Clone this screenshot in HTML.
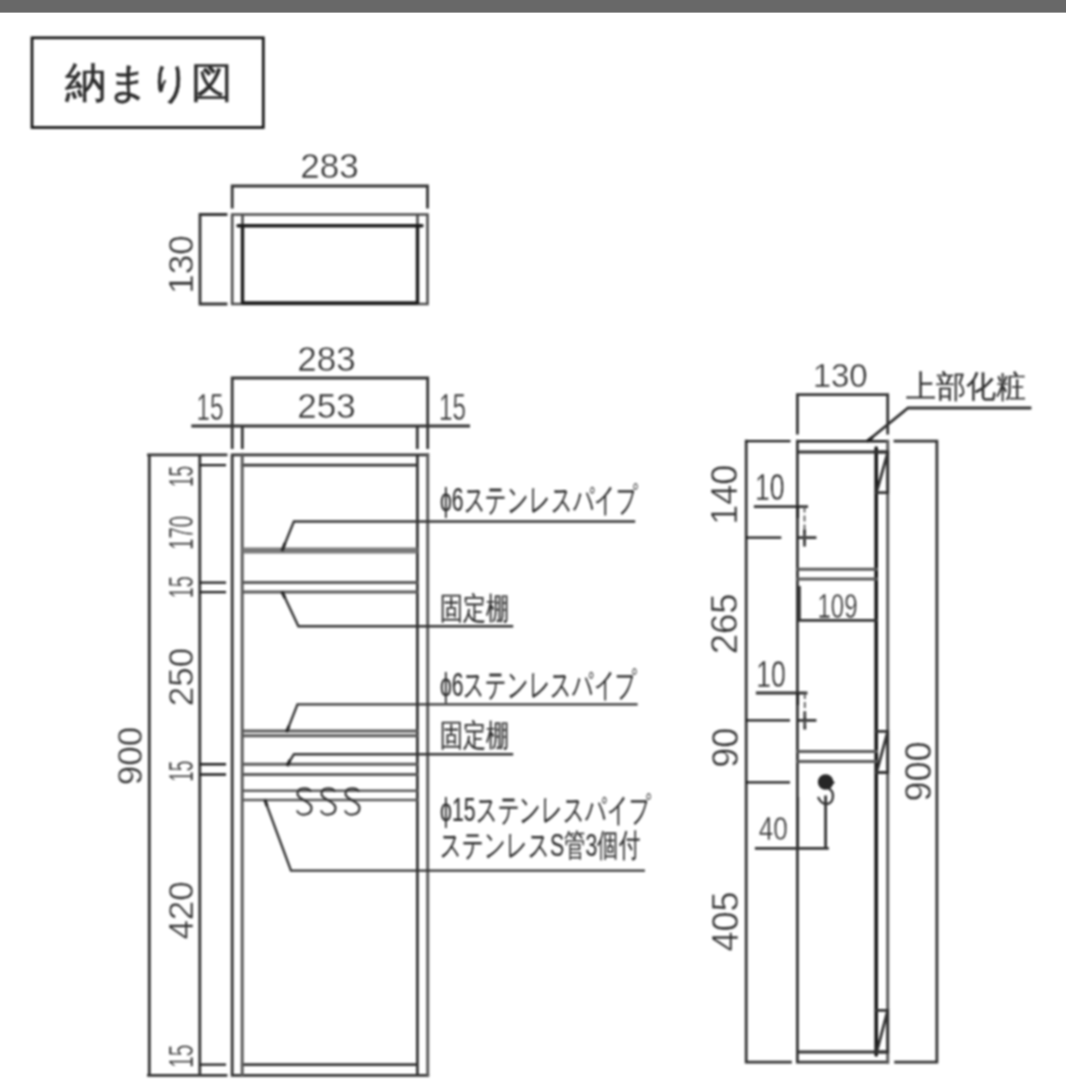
<!DOCTYPE html>
<html><head><meta charset="utf-8">
<style>
html,body{margin:0;padding:0;background:#fff;}
body{width:1067px;height:1080px;overflow:hidden;position:relative;font-family:"Liberation Sans",sans-serif;}
svg{position:absolute;left:0;top:0;}
.l{stroke:#333;stroke-width:2.8;fill:none;stroke-linecap:square;}
.m{stroke:#4a4a4a;stroke-width:2.6;fill:none;}
.g{stroke:#5a5a5a;stroke-width:3;fill:none;stroke-linecap:square;}
.k{stroke:#1a1a1a;stroke-width:3.4;fill:none;}
text{font-family:"Liberation Sans",sans-serif;fill:#2e2e2e;stroke:#fff;stroke-width:0.45;}
text.j{stroke:#333;stroke-width:0.2;}
</style></head><body>
<svg width="1067" height="1080" viewBox="0 0 1067 1080">
<defs><filter id="b" x="-5%" y="-5%" width="110%" height="110%"><feGaussianBlur stdDeviation="0.6"/></filter></defs>
<rect x="0" y="0" width="1066" height="12.6" fill="#686868"/>
<g style="filter:blur(0.8px)">
<!-- title -->
<rect x="32" y="37.8" width="231.3" height="89.7" fill="none" stroke="#111" stroke-width="2.7"/>
<text x="65" y="97" font-size="42" textLength="168" lengthAdjust="spacingAndGlyphs" style="stroke:#2a2a2a;stroke-width:0.5;fill:#2a2a2a">納まり図</text>

<!-- TOP VIEW -->
<text x="329.5" y="178.4" font-size="35" text-anchor="middle">283</text>
<path class="l" d="M232.2 186H427.5M232.2 186V207M427.5 186V207"/>
<path class="m" d="M232.2 214.5H427.5V304H232.2Z M242.5 214.5V226 M417.5 214.5V226"/>
<path class="k" d="M242.5 225V304 M417.5 225V304"/>
<path class="k" d="M238 225.8H422" style="stroke-width:3.4;stroke-linecap:round"/>
<path class="k" d="M242.5 303H417.5"/>
<path class="l" d="M200 214.5V304 M200 214.5H226 M200 304H226"/>
<text transform="translate(193.2,264.5) rotate(-90)" font-size="35" text-anchor="middle">130</text>

<!-- FRONT VIEW -->
<text x="326.5" y="370.5" font-size="35" text-anchor="middle">283</text>
<text x="326.5" y="418" font-size="35" text-anchor="middle">253</text>
<text x="210" y="419.5" font-size="36" text-anchor="middle" textLength="27" lengthAdjust="spacingAndGlyphs">15</text>
<text x="452.5" y="419.5" font-size="36" text-anchor="middle" textLength="27" lengthAdjust="spacingAndGlyphs">15</text>
<path class="l" d="M232.2 378H427.7 M232.2 378V447.5 M427.7 378V447.5 M192.7 426H468.6 M242.3 426V447.5 M417.3 426V447.5"/>
<path class="l" d="M232.2 454.8H427.7 M232.2 1075.3H427.7 M232.2 454.8V1075.3 M417.4 454.8V1075.3 M242.3 465.1H417.4 M242.3 1064.6H417.4"/>
<path class="g" d="M427.7 454.8V1075.3 M242.2 454.8V1075.3"/>
<!-- pipes & shelves -->
<path d="M242.5 550.5H417.3" stroke="#7a7a7a" stroke-width="6" fill="none"/>
<path class="g" d="M242.5 582.6H417.3 M242.5 592.1H417.3"/>
<path class="g" d="M242.5 731.1H417.3 M242.5 735.8H417.3"/>
<path class="g" d="M242.5 764.2H417.3 M242.5 774.5H417.3"/>
<path class="g" d="M242.5 790.8H417.3 M242.5 800H417.3" style="stroke-width:2.6"/>
<!-- leaders -->
<path class="l" style="stroke-width:2.4" d="M282.6 549.4L293.9 521.5H634 M282.5 592.5L298.4 626.2H512 M287 731L297.5 704.4H636.4 M287.5 764.5L294 754.2H512 M265 800.3L291 870.6H643.7"/>
<path d="M282 551L285 543 M282 592L285 598 M286.5 732L289 726 M287.2 766L290 760 M265 800L267 806" stroke="#222" stroke-width="3" fill="none"/>
<!-- dims left -->
<path class="l" d="M149.3 454.8V1075.3 M199.8 454.8V1075.3 M148.5 454.8H226 M148.5 1075.3H226"/>
<path class="k" d="M199.8 465.1H226 M199.8 582.6H226 M199.8 592.1H226 M199.8 764.2H226 M199.8 774.5H226 M199.8 1064.6H226" style="stroke-width:2.4"/>
<text transform="translate(192.5,476.5) rotate(-90)" font-size="35" text-anchor="middle" textLength="21" lengthAdjust="spacingAndGlyphs">15</text>
<text transform="translate(192.5,532.8) rotate(-90)" font-size="35" text-anchor="middle" textLength="34" lengthAdjust="spacingAndGlyphs">170</text>
<text transform="translate(192.5,587.2) rotate(-90)" font-size="35" text-anchor="middle" textLength="22" lengthAdjust="spacingAndGlyphs">15</text>
<text transform="translate(192.7,677) rotate(-90)" font-size="35" text-anchor="middle">250</text>
<text transform="translate(192.5,771.2) rotate(-90)" font-size="35" text-anchor="middle" textLength="21" lengthAdjust="spacingAndGlyphs">15</text>
<text transform="translate(192.7,910.4) rotate(-90)" font-size="35" text-anchor="middle">420</text>
<text transform="translate(192.5,1056.2) rotate(-90)" font-size="35" text-anchor="middle" textLength="23" lengthAdjust="spacingAndGlyphs">15</text>
<text transform="translate(141.9,756) rotate(-90)" font-size="35" text-anchor="middle">900</text>
<!-- S hooks -->
<path d="M311 792C309.5 787.5 298 786.5 297.5 793.5C297 800 311.5 800.5 311.5 808C311.5 816 299 816.5 297 810.5 M335 792C333.5 787.5 322 786.5 321.5 793.5C321 800 335.5 800.5 335.5 808C335.5 816 323 816.5 321 810.5 M359 792C357.5 787.5 346 786.5 345.5 793.5C345 800 359.5 800.5 359.5 808C359.5 816 347 816.5 345 810.5" stroke="#333" stroke-width="2.2" fill="none"/>
<!-- labels -->
<text class="j" x="440" y="510.5" font-size="33" textLength="198" lengthAdjust="spacingAndGlyphs">ϕ6ステンレスパイプ</text>
<text class="j" x="440" y="618.5" font-size="31" textLength="69" lengthAdjust="spacingAndGlyphs">固定棚</text>
<text class="j" x="440" y="696" font-size="33" textLength="197" lengthAdjust="spacingAndGlyphs">ϕ6ステンレスパイプ</text>
<text class="j" x="440" y="746" font-size="31" textLength="69" lengthAdjust="spacingAndGlyphs">固定棚</text>
<text class="j" x="440" y="821" font-size="33" textLength="211" lengthAdjust="spacingAndGlyphs">ϕ15ステンレスパイプ</text>
<text class="j" x="440" y="856" font-size="32" textLength="200" lengthAdjust="spacingAndGlyphs">ステンレスS管3個付</text>

<!-- SIDE VIEW -->
<text x="840.2" y="386.5" font-size="33" text-anchor="middle">130</text>
<path class="l" d="M797.4 394.6H887.7 M797.4 394.6V433 M887.7 394.6V433"/>
<text class="j" x="906" y="397" font-size="31" textLength="120" lengthAdjust="spacingAndGlyphs">上部化粧</text>
<path class="l" d="M867.7 440.8L908 408H1030"/>
<path d="M867.5 441L873 437" stroke="#222" stroke-width="3"/>
<path class="k" d="M797.4 441.2H887.7" style="stroke-width:2.4"/>
<path class="l" d="M797.4 1062.2H887.7 M797.4 441.2V1062.2 M797.4 452H887.7 M797.4 1052H887.7"/>
<path class="g" d="M887.7 441.2V1062.2"/>
<path d="M876.2 448V1055" stroke="#161616" stroke-width="3.6" fill="none" stroke-linecap="round"/>
<path class="l" d="M876.2 452H887.7V492.6H876.2 M877.5 489L887 455"/>
<path class="l" d="M876.2 731.3H887.7V772.5H876.2 M877.5 769L887 734"/>
<path class="l" d="M876.2 1010.4H887.7V1052H876.2 M877.5 1049L887 1013"/>
<path class="g" d="M797.4 569.2H876.2 M797.4 579H876.2 M797.4 751.4H876.2 M797.4 761.6H876.2"/>
<path class="l" d="M746.2 441.2V1062.2 M746.2 1062.2H790.4 M936.9 441.2V1062.2 M895 441.2H936.9 M895.6 1062.2H936.9"/>
<path class="k" d="M746.2 441.2H790.5 M746.2 537.7H781.3 M746.2 720.3H790 M746.2 782.4H790" style="stroke-width:2.2"/>
<text transform="translate(736.7,494.8) rotate(-90)" font-size="36" text-anchor="middle">140</text>
<text transform="translate(737.3,623.8) rotate(-90)" font-size="36.5" text-anchor="middle">265</text>
<text transform="translate(737.5,747.7) rotate(-90)" font-size="36" text-anchor="middle">90</text>
<text transform="translate(737.5,921.5) rotate(-90)" font-size="36" text-anchor="middle">405</text>
<text transform="translate(930.5,771.5) rotate(-90)" font-size="36" text-anchor="middle">900</text>
<!-- 10 marks -->
<text x="769.8" y="499.5" font-size="37" text-anchor="middle" textLength="29.5" lengthAdjust="spacingAndGlyphs">10</text>
<path class="l" d="M755.3 506.6H806.6 M797.4 537.7H815 M804.5 531V545"/>
<path d="M804.5 506.6V545" stroke="#555" stroke-width="1.8" stroke-dasharray="6 3"/>
<path d="M797.6 506V518" stroke="#222" stroke-width="3"/>
<text x="771" y="686.5" font-size="37" text-anchor="middle" textLength="29.5" lengthAdjust="spacingAndGlyphs">10</text>
<path class="l" d="M757.3 693H806 M797.4 720.3H815 M804.8 713V728"/>
<path d="M804.8 693V728" stroke="#555" stroke-width="1.8" stroke-dasharray="6 3"/>
<path d="M797.6 693V705" stroke="#222" stroke-width="3"/>
<!-- 109 -->
<text x="837.5" y="618" font-size="35" text-anchor="middle" textLength="40" lengthAdjust="spacingAndGlyphs">109</text>
<path class="l" d="M798 620.4H876 M799.4 587.5V620.4"/>
<!-- 40 -->
<text x="773.3" y="840" font-size="33" text-anchor="middle" textLength="29" lengthAdjust="spacingAndGlyphs">40</text>
<path class="l" d="M756.3 848.3H827.4 M825.6 797V848.3"/>
<circle cx="825.6" cy="782" r="7.8" fill="#262626"/>
<path d="M833 781L835 782.5L832 785" fill="#262626"/>
<path class="l" d="M829.5 789C834.5 792 834.5 804 826 804C822 804 820 801 818.5 798" style="stroke-width:2.3"/>
<path d="M797.8 797V848" stroke="#333" stroke-width="2.6"/>
</g>
</svg>
</body></html>
